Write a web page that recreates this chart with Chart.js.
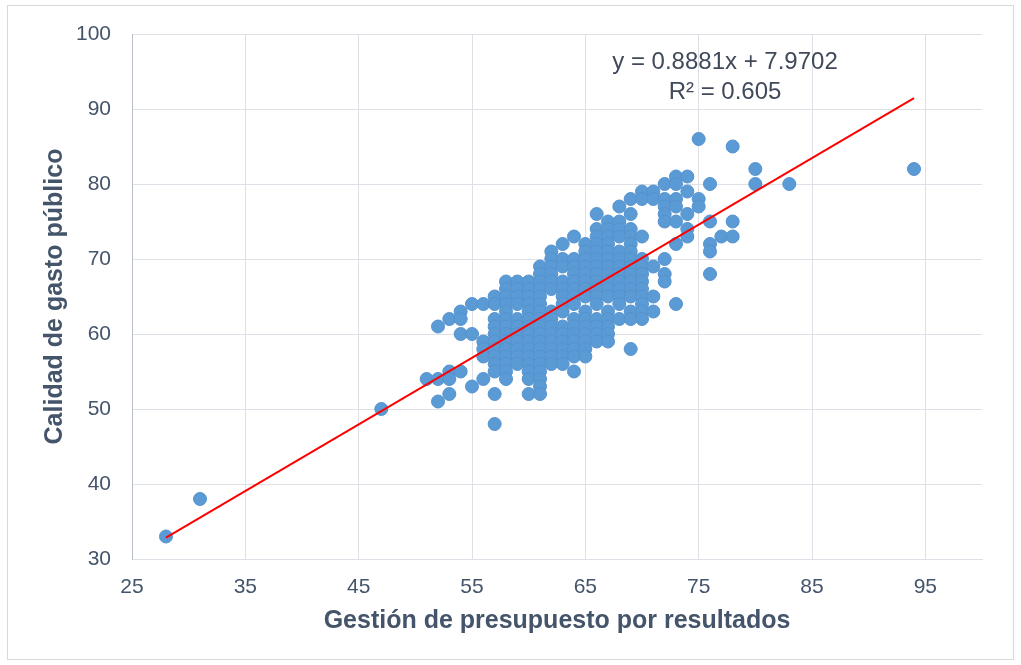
<!DOCTYPE html>
<html>
<head>
<meta charset="utf-8">
<script src="https://cdn.jsdelivr.net/npm/chart.js@4/dist/chart.umd.min.js"></script>
<style>
  html, body { margin: 0; padding: 0; background: #ffffff; }
  #wrap { position: relative; width: 1021px; height: 665px; }
</style>
</head>
<body>
<div id="wrap"><canvas id="c" width="1021" height="665"></canvas></div>
<script>
// ---- Data ----
// x values (Gestión de presupuesto por resultados), one per column of points
const gestion = [28, 31, 47, 51, 52, 53, 54, 55, 56, 57, 58, 59, 60, 61, 62, 63, 64, 65, 66, 67, 68, 69, 70, 71, 72, 73, 74, 75, 76, 77, 78, 80, 83, 94];
// y values (Calidad de gasto público) for each x column above
const calidad = [
  [33],
  [38],
  [50],
  [54],
  [61, 54, 51],
  [62, 55, 54, 52],
  [63, 62, 60, 55],
  [64, 60, 53],
  [64, 59, 58, 57, 54],
  [65, 64, 62, 61, 60, 59, 58, 57, 56, 55, 52, 48],
  [67, 66, 65, 64, 63, 62, 61, 60, 59, 58, 57, 56, 55, 54],
  [67, 66, 65, 64, 62, 61, 60, 59, 58, 57, 56],
  [67, 66, 65, 64, 63, 62, 61, 60, 59, 58, 57, 56, 55, 54, 52],
  [69, 68, 67, 66, 65, 64, 63, 62, 61, 60, 59, 58, 57, 56, 55, 54, 53, 52],
  [71, 70, 69, 68, 67, 66, 63, 62, 61, 60, 59, 58, 57, 56],
  [72, 70, 69, 67, 66, 65, 64, 63, 61, 60, 59, 58, 57, 56],
  [73, 70, 69, 68, 67, 66, 65, 64, 62, 61, 60, 59, 58, 57, 55],
  [72, 71, 70, 69, 68, 67, 66, 65, 63, 62, 61, 60, 59, 58, 57],
  [76, 74, 73, 72, 71, 70, 69, 68, 67, 66, 65, 64, 62, 61, 60, 59],
  [75, 74, 73, 72, 71, 70, 69, 68, 67, 66, 65, 63, 62, 61, 60, 59],
  [77, 75, 74, 73, 71, 70, 69, 68, 67, 66, 65, 64, 62],
  [78, 76, 74, 73, 72, 71, 70, 69, 68, 67, 66, 65, 63, 62, 58],
  [79, 78, 73, 70, 69, 68, 67, 66, 65, 64, 63, 62],
  [79, 78, 69, 65, 63],
  [80, 78, 77, 76, 75, 70, 68, 67],
  [81, 80, 78, 77, 75, 72, 64],
  [81, 79, 76, 74, 73],
  [86, 78, 77],
  [80, 75, 72, 71, 68],
  [73],
  [85, 75, 73],
  [82, 80],
  [80],
  [82]
];
// Linear trend line (from the reference's equation)
const trendSlope = [0.8881];
const trendIntercept = [7.9702];
const trendText = ["y = 0.8881x + 7.9702", "R² = 0.605"];
// Axis ticks
const xTicks = [25, 35, 45, 55, 65, 75, 85, 95];
const yTicks = [30, 40, 50, 60, 70, 80, 90, 100];
const xTitle = "Gestión de presupuesto por resultados";
const yTitle = "Calidad de gasto público";

// ---- Build datasets ----
const points = [];
gestion.forEach((gx, i) => calidad[i].forEach(gy => points.push({ x: gx, y: gy })));
const xMin = Math.min(...gestion), xMax = Math.max(...gestion);
const trend = [xMin, xMax].map(v => ({ x: v, y: trendSlope[0] * v + trendIntercept[0] }));

const TXT = '#44546A';
const FONT = "'Liberation Sans', Arial, sans-serif";

const decor = {
  id: 'decor',
  beforeDraw(chart) {
    const ctx = chart.ctx;
    ctx.save();
    ctx.fillStyle = '#ffffff';
    ctx.fillRect(0, 0, chart.width, chart.height);
    ctx.strokeStyle = '#D9D9D9';
    ctx.lineWidth = 1;
    ctx.strokeRect(7.5, 5.5, 1006, 654);
    ctx.restore();
  },
  afterDraw(chart) {
    const ctx = chart.ctx;
    ctx.save();
    ctx.fillStyle = '#404A5A';
    ctx.font = "24px " + FONT;
    ctx.textAlign = 'center';
    ctx.textBaseline = 'middle';
    ctx.fillText(trendText[0], 725, 62);
    ctx.fillText(trendText[1], 725, 92);
    ctx.restore();
  }
};

new Chart(document.getElementById('c'), {
  type: 'scatter',
  data: {
    datasets: [
      {
        type: 'line',
        data: trend,
        borderColor: '#FF0000',
        borderWidth: 2,
        pointRadius: 0,
        fill: false,
        order: 0
      },
      {
        type: 'scatter',
        data: points,
        backgroundColor: '#5B9BD5',
        borderColor: '#5592CD',
        borderWidth: 1,
        pointRadius: 6.5,
        pointHoverRadius: 6.5,
        order: 1
      }
    ]
  },
  options: {
    responsive: false,
    animation: false,
    devicePixelRatio: 1,
    layout: { padding: { left: 36, right: 39, top: 34, bottom: 25 } },
    plugins: { legend: { display: false }, tooltip: { enabled: false } },
    events: [],
    scales: {
      x: {
        type: 'linear',
        min: 25, max: 100,
        afterBuildTicks: s => { s.ticks = xTicks.map(v => ({ value: v })); },
        afterFit: s => { s.height = 81; },
        grid: { color: '#DDE0E6', lineWidth: 1, drawTicks: false },
        border: { display: true, color: '#DDE0E6' },
        ticks: { color: TXT, font: { family: FONT, size: 21 }, padding: 16, maxRotation: 0 },
        title: { display: true, text: xTitle, color: TXT, font: { family: FONT, size: 25, weight: 'bold' }, padding: 4 }
      },
      y: {
        type: 'linear',
        min: 30, max: 100,
        afterBuildTicks: s => { s.ticks = yTicks.map(v => ({ value: v })); },
        afterFit: s => { s.width = 96; },
        grid: { color: '#DDE0E6', lineWidth: 1, drawTicks: false },
        border: { display: true, color: '#B9C0CB' },
        ticks: { color: TXT, font: { family: FONT, size: 21 }, padding: 21 },
        title: { display: true, text: yTitle, color: TXT, font: { family: FONT, size: 25, weight: 'bold' }, padding: 4 }
      }
    }
  },
  plugins: [decor]
});
</script>
</body>
</html>
